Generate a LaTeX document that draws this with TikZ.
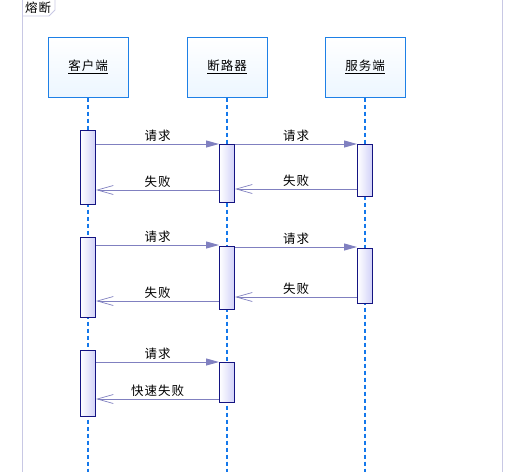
\documentclass[tikz,border=0pt]{standalone}
\usepackage{fontspec}
\setmainfont[LetterSpace=8]{Noto Sans CJK SC}
\usetikzlibrary{arrows.meta,positioning,calc}
\definecolor{headblue}{RGB}{30,128,230}
\definecolor{lifeblue}{RGB}{20,120,235}
\definecolor{actnavy}{RGB}{20,20,130}
\definecolor{actfill}{RGB}{208,208,248}
\definecolor{msgcol}{RGB}{128,128,192}
\definecolor{framecol}{RGB}{200,200,228}
\definecolor{headfill}{RGB}{236,246,255}

\tikzset{
  head/.style={rectangle,draw=headblue,line width=1pt,top color=white,bottom color=headfill,
    minimum width=80pt,minimum height=60pt,inner sep=0pt,font=\fontsize{12.5}{14}\selectfont},
  act/.style={rectangle,draw=actnavy,line width=1pt,left color=white,right color=actfill,
    minimum width=15pt,inner sep=0pt,anchor=north},
  life/.style={draw=lifeblue,line width=2pt,dash pattern=on 4pt off 3pt},
  msg/.style={draw=msgcol,line width=1pt,-{Triangle[length=13pt,width=7pt,fill=msgcol]}},
  ret/.style={draw=msgcol,line width=1pt,-{Straight Barb[length=16pt,width=9pt,line width=0.7pt]}},
  lbl/.style={font=\fontsize{12.5}{14}\selectfont,inner sep=1pt}
}

\begin{document}
\begin{tikzpicture}[x=1pt,y=-1pt]
\useasboundingbox (0,0) rectangle (518,472);
% frame
\draw[framecol,line width=1pt] (22,0) -- (22,472) (502,0) -- (502,472);
\draw[framecol,line width=0.8pt] (22,16) -- (49,16) -- (55,10) -- (55,0);
\node[lbl] (title) at (38,8) {熔断};

% heads
\node[head] (client) at (88,67) {\underline{客户端}};
\node[head] (breaker) at (227,67) {\underline{断路器}};
\node[head] (server) at (365,67) {\underline{服务端}};

% lifelines
\coordinate (cEnd) at (88,472);
\coordinate (bEnd) at (227,472);
\coordinate (sEnd) at (365,472);
\draw[life] (client.south) -- (cEnd);
\draw[life] (breaker.south) -- (bEnd);
\draw[life] (server.south) -- (sEnd);

% activations
\node[act,minimum height=74pt] (c1) at (88,130) {};
\node[act,minimum height=58pt] (b1) at (227,144) {};
\node[act,minimum height=52pt] (s1) at (365,144) {};
\node[act,minimum height=80pt] (c2) at (88,237) {};
\node[act,minimum height=63pt] (b2) at (227,246) {};
\node[act,minimum height=55pt] (s2) at (365,248) {};
\node[act,minimum height=66pt] (c3) at (88,350) {};
\node[act,minimum height=40pt] (b3) at (227,362) {};

% round 1
\draw[msg] (c1.east |- b1.north) -- node[lbl,above=1pt] {请求} (b1.north west);
\draw[msg] (b1.east |- s1.north) -- node[lbl,above=1pt] {请求} (s1.north west);
\coordinate (f1) at ($(s1.south west)+(0,-8)$);
\draw[ret] (f1) -- node[lbl,above=1pt] {失败} (b1.east |- f1);
\coordinate (f2) at ($(b1.south west)+(0,-13)$);
\draw[ret] (f2) -- node[lbl,above=1pt] {失败} (c1.east |- f2);

% round 2
\coordinate (r3) at ($(b2.north west)+(0,-1)$);
\draw[msg] (c2.east |- r3) -- node[lbl,above=1pt] {请求} (r3);
\coordinate (r4) at ($(s2.north west)+(0,-1)$);
\draw[msg] (b2.east |- r4) -- node[lbl,above=1pt] {请求} (r4);
\coordinate (f3) at ($(s2.south west)+(0,-7)$);
\draw[ret] (f3) -- node[lbl,above=1pt] {失败} (b2.east |- f3);
\coordinate (f4) at ($(b2.south west)+(0,-9)$);
\draw[ret] (f4) -- node[lbl,above=1pt] {失败} (c2.east |- f4);

% round 3
\draw[msg] (c3.east |- b3.north) -- node[lbl,above=1pt] {请求} (b3.north west);
\coordinate (f5) at ($(b3.south west)+(0,-4)$);
\draw[ret] (f5) -- node[lbl,above=1pt] {快速失败} (c3.east |- f5);
\end{tikzpicture}
\end{document}
